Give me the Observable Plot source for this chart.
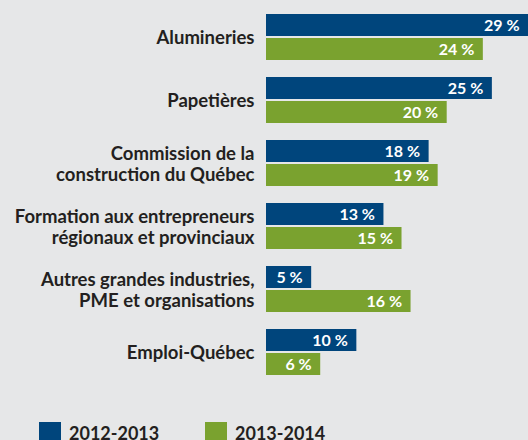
<!DOCTYPE html>
<html>
<head>
<meta charset="utf-8">
<script src="https://cdn.jsdelivr.net/npm/d3@7"></script>
<script src="https://cdn.jsdelivr.net/npm/@observablehq/plot@0.6"></script>
<style>
  html, body { margin: 0; padding: 0; background: #e6e7e8; }
  body { width: 528px; height: 440px; overflow: hidden; position: relative; font-family: Lato, "Open Sans", sans-serif; color: #231f20; }
  #legend { position: absolute; top: 422px; left: 39px; display: flex; font-weight: bold; font-size: 18px; line-height: 22px; }
  .item { display: flex; align-items: flex-start; }
  .sw { width: 22px; height: 22px; margin-right: 8px; }
</style>
</head>
<body>
<div id="chart"></div>
<div id="legend"></div>
<script>
const categories = [
  "Alumineries",
  "Papetières",
  "Commission de la\nconstruction du Québec",
  "Formation aux entrepreneurs\nrégionaux et provinciaux",
  "Autres grandes industries,\nPME et organisations",
  "Emploi-Québec"
];
const series = ["2012-2013", "2013-2014"];
const values2012 = [29, 25, 18, 13, 5, 10];
const values2013 = [24, 20, 19, 15, 16, 6];
const colors = ["#00457c", "#7aa22f"];

const data = categories.flatMap((c, i) => [
  {category: c, series: series[0], value: values2012[i]},
  {category: c, series: series[1], value: values2013[i]}
]);

const chart = Plot.plot({
  width: 528,
  height: 390,
  marginLeft: 266,
  marginRight: 0,
  marginTop: 11,
  marginBottom: 12.5,
  style: {background: "transparent", fontFamily: "Lato, 'Open Sans', sans-serif", color: "#231f20"},
  x: {domain: [0, 29], axis: null},
  y: {domain: series, axis: null, paddingInner: 0.1, paddingOuter: 0},
  fy: {domain: categories, paddingInner: 0.273, paddingOuter: 0, axis: null, label: null},
  color: {domain: series, range: colors},
  marks: [
    Plot.barX(data, {x: "value", y: "series", fy: "category", fill: "series"}),
    Plot.text(data, {x: "value", y: "series", fy: "category", text: d => `${d.value} %`, textAnchor: "end", dx: -9, fill: "white", fontWeight: "bold", fontSize: 16}),
    Plot.axisFy({anchor: "left", tickSize: 0, tickPadding: 12, fontSize: 18.5, fontWeight: "bold", lineHeight: 1.17, label: null})
  ]
});
document.getElementById("chart").appendChild(chart);

const legend = document.getElementById("legend");
series.forEach((s, i) => {
  const item = document.createElement("div");
  item.className = "item";
  item.style.width = i === 0 ? "166px" : "auto";
  const sw = document.createElement("div");
  sw.className = "sw";
  sw.style.background = colors[i];
  const t = document.createElement("span");
  t.textContent = s;
  item.appendChild(sw);
  item.appendChild(t);
  legend.appendChild(item);
});
</script>
</body>
</html>
